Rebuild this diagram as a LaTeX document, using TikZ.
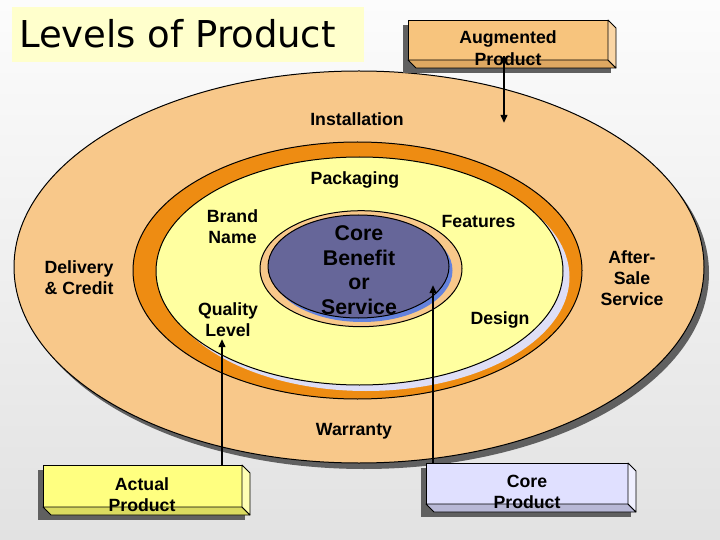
\documentclass[tikz,border=0pt]{standalone}
\usepackage{fontspec}
\setmainfont{Liberation Sans}
\newfontfamily\titlefont{DejaVu Sans}
\usetikzlibrary{arrows.meta,calc}
\definecolor{bgtop}{RGB}{252,252,252}
\definecolor{bgbot}{RGB}{226,226,226}
\definecolor{lorange}{RGB}{248,200,138}
\definecolor{dorange}{RGB}{238,140,18}
\definecolor{lyellow}{RGB}{255,255,160}
\definecolor{lavend}{RGB}{222,222,246}
\definecolor{coreblue}{RGB}{102,102,153}
\definecolor{coreshad}{RGB}{100,130,220}
\definecolor{shadowgray}{RGB}{96,96,96}
\definecolor{titlebg}{RGB}{255,255,204}
\definecolor{augfront}{RGB}{247,196,125}
\definecolor{augbot}{RGB}{222,168,98}
\definecolor{augside}{RGB}{250,214,166}
\definecolor{actfront}{RGB}{255,255,128}
\definecolor{actbot}{RGB}{218,218,96}
\definecolor{actside}{RGB}{255,255,180}
\definecolor{cpfront}{RGB}{224,224,255}
\definecolor{cpbot}{RGB}{184,184,214}
\definecolor{cpside}{RGB}{240,240,255}
\tikzset{
  lbl/.style={font=\bfseries\fontsize{17.7bp}{21bp}\selectfont, align=center, inner sep=0pt},
  corelbl/.style={font=\bfseries\fontsize{21.3bp}{24.5bp}\selectfont, align=center, inner sep=0pt},
  boxlbl/.style={font=\bfseries\fontsize{17.7bp}{21.5bp}\selectfont, align=center, inner sep=0pt},
  arr/.style={line width=2.2bp, -{Triangle[length=8bp,width=6.5bp]}},
  ell/.style={draw=black, line width=1bp},
  face/.style={draw=black, line width=0.8bp, line join=round}
}
% name, x, y, w, h, front, bottom, side
\newcommand\threedbox[8]{%
  \fill[shadowgray] (#2-5,#3+5) rectangle (#2+#4+3,#3+#5+13);
  \node[draw=black, line width=0.8bp, fill=#6, minimum width=#4bp, minimum height=#5bp,
        anchor=north west, inner sep=0pt, outer sep=0pt] (#1) at (#2,#3) {};
  \filldraw[face, fill=#7] (#1.south west) -- (#1.south east) -- ++(8,8) -- ($(#1.south west)+(8,8)$) -- cycle;
  \filldraw[face, fill=#8] (#1.north east) -- ++(8,8) -- ++(0,#5) -- (#1.south east) -- cycle;
}
\begin{document}
\begin{tikzpicture}[x=1bp,y=-1bp]
\useasboundingbox (0,0) rectangle (720,540);
\shade[top color=bgtop, bottom color=bgbot] (0,0) rectangle (720,540);

% title
\node[fill=titlebg, minimum width=352bp, minimum height=55bp, anchor=north west, inner sep=0pt] (titlebox) at (12,7) {};
\node[anchor=base west, inner sep=0pt, font=\titlefont\fontsize{37bp}{40bp}\selectfont] (title) at (19,47.5) {Levels of Product};

% outer level
\fill[shadowgray] (364,273) ellipse [x radius=345, y radius=196];
\filldraw[ell, fill=lorange] (359,267) ellipse [x radius=345, y radius=196];
% actual product ring
\filldraw[ell, fill=dorange] (357.5,270.5) ellipse [x radius=224.5, y radius=128.5];
\fill[lavend] (366,277) ellipse [x radius=203.5, y radius=114];
\filldraw[ell, fill=lyellow] (359.5,271) ellipse [x radius=203.5, y radius=114];
% core
\filldraw[ell, fill=lorange] (361,268.7) ellipse [x radius=101, y radius=58];
\fill[coreshad] (362,270.5) ellipse [x radius=90.5, y radius=51.5];
\filldraw[ell, fill=coreblue] (358.5,266.5) ellipse [x radius=90.5, y radius=51.5];

% labels
\node[lbl] (inst) at (357,119) {Installation};
\node[lbl] (pack) at (355,180) {Packaging};
\node[lbl] (brand) at (232.5,227) {Brand\\Name};
\node[lbl] (feat) at (478.5,221) {Features};
\node[lbl] (deliv) at (79,278) {Delivery\\\& Credit};
\node[lbl] (qual) at (228,320) {Quality\\Level};
\node[corelbl] (core) at (359,270) {Core\\Benefit\\or\\Service};
\node[lbl] (design) at (500,320) {Design};
\node[lbl] (after) at (632,278) {After-\\Sale\\Service};
\node[lbl] (warr) at (354,431) {Warranty};

% boxes
\threedbox{aug}{408}{20}{200}{40}{augfront}{augbot}{augside}
\threedbox{act}{43}{465}{199}{42}{actfront}{actbot}{actside}
\threedbox{cp}{426}{463}{202}{41}{cpfront}{cpbot}{cpside}
\node[boxlbl] (augt) at (508,48) {Augmented\\Product};
\node[boxlbl] (actt) at (142,494.5) {Actual\\Product};
\node[boxlbl] (cpt) at (527,492) {Core\\Product};

% arrows
\coordinate (augtip) at (504,123);
\coordinate (qtip) at (222,339);
\coordinate (ctip) at (433,285);
\draw[arr] ($(aug.south -| augtip)+(0,-4)$) -- (augtip);
\draw[arr] (act.north -| qtip) -- (qtip);
\draw[arr] (cp.north -| ctip) -- (ctip);
\end{tikzpicture}
\end{document}
